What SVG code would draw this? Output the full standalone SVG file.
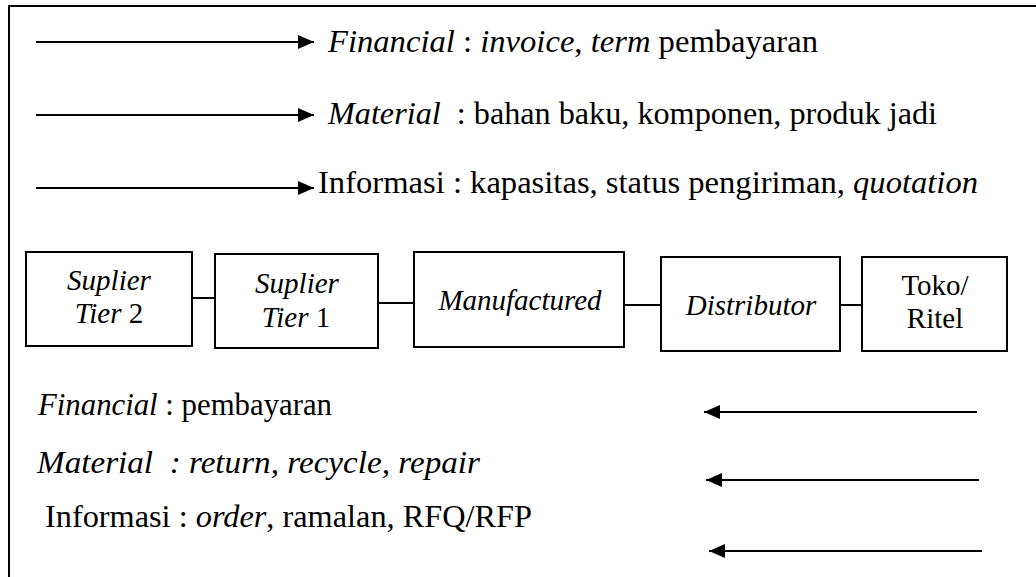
<svg xmlns="http://www.w3.org/2000/svg" width="1036" height="577" viewBox="0 0 1036 577">
<defs>
<style>
text{font-family:'Liberation Serif','Times New Roman',serif;fill:#000}
.lg{font-size:31px}
.bx{font-size:29px;text-anchor:middle;font-style:italic}
.up{font-style:normal}
.i{font-style:italic}
.box{fill:#fff;stroke:#000;stroke-width:2}
.ln{stroke:#000;stroke-width:2;fill:none}
</style>
<marker id="ah" viewBox="0 0 16 14" refX="16" refY="7" markerWidth="16" markerHeight="14" markerUnits="userSpaceOnUse" orient="auto">
<path d="M0,0 L16,7 L0,14 Z" fill="#000"/>
</marker>
</defs>
<rect width="1036" height="577" fill="#fff"/>
<g id="frame">
<path class="ln" d="M9,577 V6 H1036"/>
</g>
<g id="connectors">
<line class="ln" x1="36" y1="42" x2="314" y2="42" marker-end="url(#ah)"/>
<line class="ln" x1="36" y1="115" x2="314" y2="115" marker-end="url(#ah)"/>
<line class="ln" x1="36" y1="188" x2="314" y2="188" marker-end="url(#ah)"/>
<line class="ln" x1="977" y1="412" x2="704" y2="412" marker-end="url(#ah)"/>
<line class="ln" x1="979" y1="480" x2="706" y2="480" marker-end="url(#ah)"/>
<line class="ln" x1="982" y1="551" x2="709" y2="551" marker-end="url(#ah)"/>
<line class="ln" x1="192" y1="298" x2="215" y2="298"/>
<line class="ln" x1="378" y1="303" x2="414" y2="303"/>
<line class="ln" x1="624" y1="305" x2="661" y2="305"/>
<line class="ln" x1="840" y1="305" x2="862" y2="305"/>
</g>
<g id="legend-top">
<text class="lg" x="328" y="52" textLength="490" lengthAdjust="spacingAndGlyphs"><tspan class="i">Financial</tspan> : <tspan class="i">invoice</tspan>, <tspan class="i">term</tspan> pembayaran</text>
<text class="lg" x="328" y="124" textLength="609" lengthAdjust="spacingAndGlyphs" xml:space="preserve"><tspan class="i">Material</tspan>  : bahan baku, komponen, produk jadi</text>
<text class="lg" x="318" y="193" textLength="660" lengthAdjust="spacingAndGlyphs">Informasi : kapasitas, status pengiriman, <tspan class="i">quotation</tspan></text>
</g>
<g id="node-suplier-tier2">
<rect class="box" x="26" y="252" width="166" height="94"/>
<text class="bx" x="109" y="290">Suplier</text>
<text class="bx" x="109" y="323">Tier <tspan class="up">2</tspan></text>
</g>
<g id="node-suplier-tier1">
<rect class="box" x="215" y="254" width="163" height="94"/>
<text class="bx" x="297" y="293">Suplier</text>
<text class="bx" x="296" y="327">Tier <tspan class="up">1</tspan></text>
</g>
<g id="node-manufactured">
<rect class="box" x="414" y="252" width="210" height="95"/>
<text class="bx" x="520" y="310">Manufactured</text>
</g>
<g id="node-distributor">
<rect class="box" x="661" y="257" width="179" height="94"/>
<text class="bx" x="751" y="315">Distributor</text>
</g>
<g id="node-toko-ritel">
<rect class="box" x="862" y="257" width="145" height="94"/>
<text class="bx up" x="935" y="295">Toko/</text>
<text class="bx up" x="935" y="328">Ritel</text>
</g>
<g id="legend-bottom">
<text class="lg" x="38" y="415" textLength="294" lengthAdjust="spacingAndGlyphs"><tspan class="i">Financial</tspan> : pembayaran</text>
<text class="lg i" x="37" y="473" textLength="443" lengthAdjust="spacingAndGlyphs" xml:space="preserve">Material  : return, recycle, repair</text>
<text class="lg" x="45" y="527" textLength="487" lengthAdjust="spacingAndGlyphs">Informasi : <tspan class="i">order</tspan>, ramalan, RFQ/RFP</text>
</g>
</svg>
